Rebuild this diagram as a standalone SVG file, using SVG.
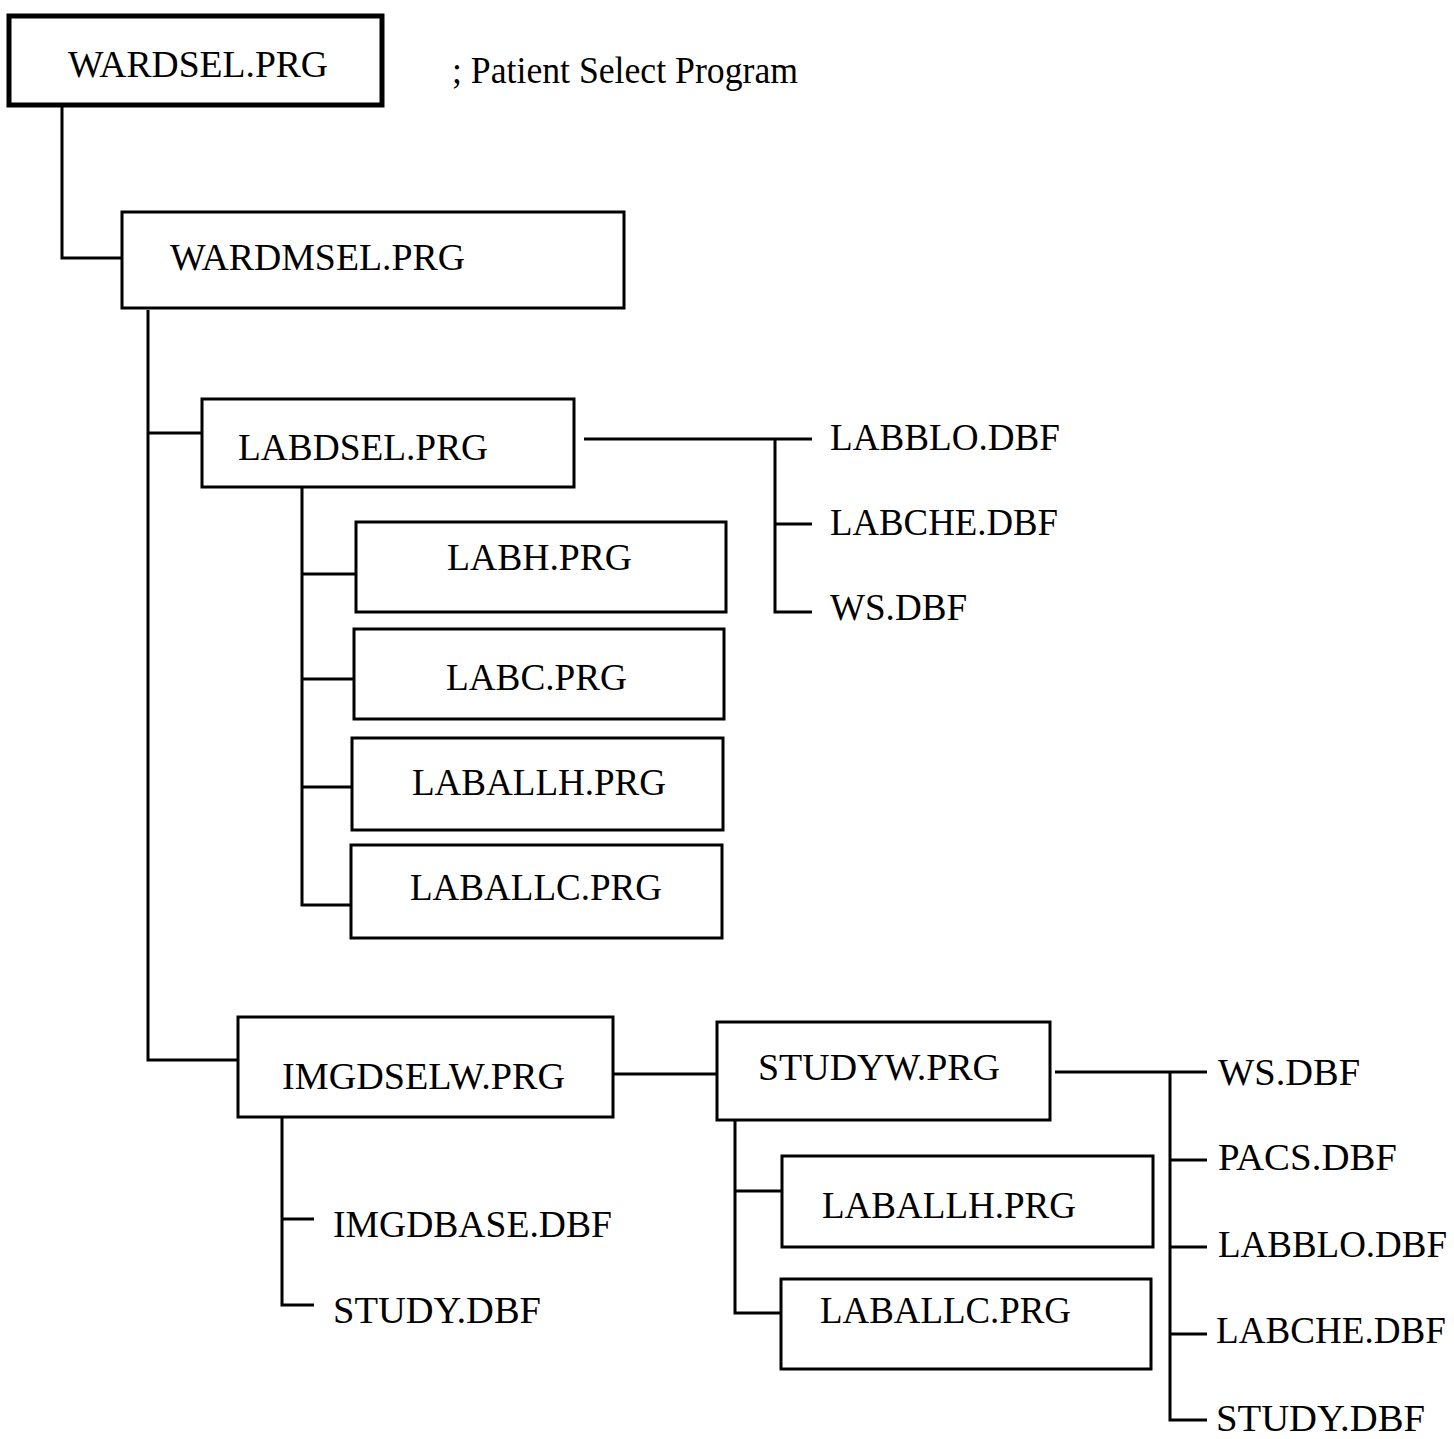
<svg xmlns="http://www.w3.org/2000/svg" width="1454" height="1439" viewBox="0 0 1454 1439">
<style>
.box{fill:#fff;stroke:#000;stroke-width:3}
.main{fill:#fff;stroke:#000;stroke-width:5}
.t{font-family:"Liberation Serif","Times New Roman",serif;font-size:38px;fill:#000}
.c{fill:none;stroke:#000;stroke-width:3}
</style>
<rect width="1454" height="1439" fill="#fff"/>
<g id="connectors">
<path class="c" d="M62 105V258H122"/>
<path class="c" d="M148 310V1060H238M148 433H202"/>
<path class="c" d="M584 439H812M775 439V612H812M775 524H812"/>
<path class="c" d="M302 487V905H351M302 574H356M302 679H354M302 787H352"/>
<path class="c" d="M608 1074H717"/>
<path class="c" d="M282 1117V1305H314M282 1219H314"/>
<path class="c" d="M1055 1072H1207M1170 1072V1420H1207M1170 1160H1207M1170 1247H1207M1170 1334H1207"/>
<path class="c" d="M735 1120V1313H782M735 1191H782"/>
</g>
<g id="wardsel"><rect class="main" x="9" y="16" width="373" height="89"/><text class="t" x="68" y="77" textLength="260" lengthAdjust="spacingAndGlyphs">WARDSEL.PRG</text></g>
<g id="comment"><text class="t" x="452" y="83" textLength="346" lengthAdjust="spacingAndGlyphs">; Patient Select Program</text></g>
<g id="wardmsel"><rect class="box" x="122" y="212" width="502" height="96"/><text class="t" x="170" y="270" textLength="295" lengthAdjust="spacingAndGlyphs">WARDMSEL.PRG</text></g>
<g id="labdsel"><rect class="box" x="202" y="399" width="372" height="88"/><text class="t" x="238" y="460" textLength="250" lengthAdjust="spacingAndGlyphs">LABDSEL.PRG</text></g>
<g id="labblo1"><text class="t" x="830" y="450" textLength="230" lengthAdjust="spacingAndGlyphs">LABBLO.DBF</text></g>
<g id="labche1"><text class="t" x="830" y="535" textLength="228" lengthAdjust="spacingAndGlyphs">LABCHE.DBF</text></g>
<g id="ws1"><text class="t" x="830" y="620" textLength="137" lengthAdjust="spacingAndGlyphs">WS.DBF</text></g>
<g id="labh"><rect class="box" x="356" y="522" width="370" height="90"/><text class="t" x="447" y="570" textLength="185" lengthAdjust="spacingAndGlyphs">LABH.PRG</text></g>
<g id="labc"><rect class="box" x="354" y="629" width="370" height="90"/><text class="t" x="446" y="690" textLength="181" lengthAdjust="spacingAndGlyphs">LABC.PRG</text></g>
<g id="laballh1"><rect class="box" x="352" y="738" width="371" height="92"/><text class="t" x="412" y="795" textLength="254" lengthAdjust="spacingAndGlyphs">LABALLH.PRG</text></g>
<g id="laballc1"><rect class="box" x="351" y="845" width="371" height="93"/><text class="t" x="410" y="900" textLength="252" lengthAdjust="spacingAndGlyphs">LABALLC.PRG</text></g>
<g id="imgdselw"><rect class="box" x="238" y="1017" width="375" height="100"/><text class="t" x="282" y="1089" textLength="283" lengthAdjust="spacingAndGlyphs">IMGDSELW.PRG</text></g>
<g id="imgdbase"><text class="t" x="333" y="1237" textLength="279" lengthAdjust="spacingAndGlyphs">IMGDBASE.DBF</text></g>
<g id="study1"><text class="t" x="333" y="1323" textLength="208" lengthAdjust="spacingAndGlyphs">STUDY.DBF</text></g>
<g id="studyw"><rect class="box" x="717" y="1022" width="333" height="98"/><text class="t" x="758" y="1080" textLength="242" lengthAdjust="spacingAndGlyphs">STUDYW.PRG</text></g>
<g id="laballh2"><rect class="box" x="782" y="1156" width="371" height="91"/><text class="t" x="822" y="1218" textLength="254" lengthAdjust="spacingAndGlyphs">LABALLH.PRG</text></g>
<g id="laballc2"><rect class="box" x="781" y="1279" width="370" height="90"/><text class="t" x="820" y="1323" textLength="251" lengthAdjust="spacingAndGlyphs">LABALLC.PRG</text></g>
<g id="ws2"><text class="t" x="1218" y="1085" textLength="142" lengthAdjust="spacingAndGlyphs">WS.DBF</text></g>
<g id="pacs"><text class="t" x="1218" y="1170" textLength="179" lengthAdjust="spacingAndGlyphs">PACS.DBF</text></g>
<g id="labblo2"><text class="t" x="1218" y="1257" textLength="229" lengthAdjust="spacingAndGlyphs">LABBLO.DBF</text></g>
<g id="labche2"><text class="t" x="1216" y="1343" textLength="230" lengthAdjust="spacingAndGlyphs">LABCHE.DBF</text></g>
<g id="study2"><text class="t" x="1216" y="1431" textLength="209" lengthAdjust="spacingAndGlyphs">STUDY.DBF</text></g>
</svg>
